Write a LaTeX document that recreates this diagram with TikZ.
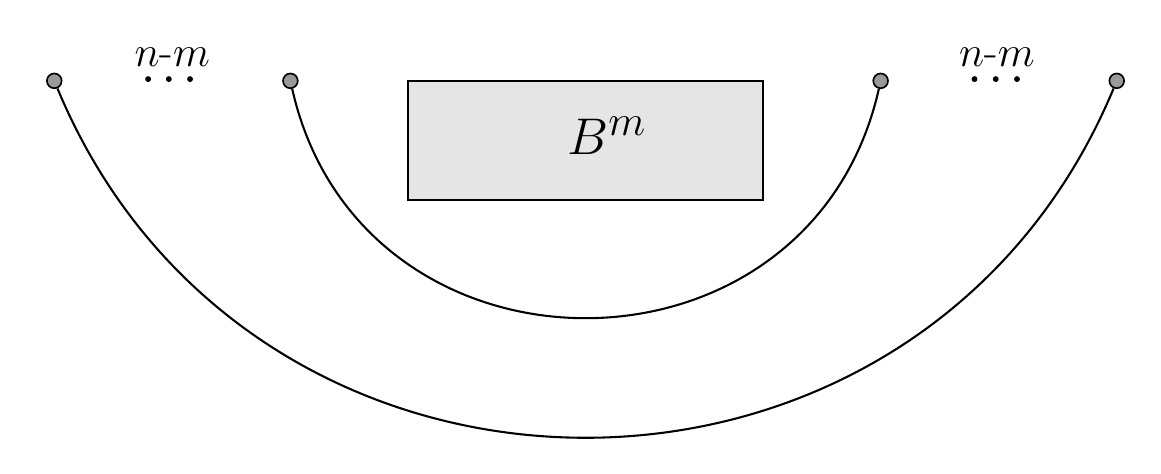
\documentclass[tikz,border=0pt]{standalone}
\begin{document}
\begin{tikzpicture}[port/.style={circle, draw, fill=black!40, inner sep=0pt, minimum size=0.25cm, line width=0.8pt}, arcline/.style={line width=1pt}, lbl/.style={font=\fontsize{21.5}{26}\selectfont, anchor=base}]
\useasboundingbox (-9.92,-6.66) rectangle (9.75,1.37);
\node[port] (pid0) at (-9,0){};
\node[port] (pid1) at (-5,0){};
\node[port] (pid2) at (5,0){};
\node[port] (pid3) at (9,0){};
\node[draw, fill=black!10, minimum width=6.02cm, minimum height=2.02cm, line width=1pt] (box) at (0,-1.01){};
\node[font=\Huge, anchor=base] (bm) at (0.36,-1.25){$B^m$};
\node[lbl] (nl) at (-7,0.25){$n$-$m$};
\node[lbl] (nr) at (6.97,0.25){$n$-$m$};
% dots
\foreach \x in {-7.41,-7.06,-6.70,6.59,6.95,7.31}
  \fill (\x,0.03) circle (0.05);
\draw[arcline] (pid1) to[out=-77.3, in=-102.7, looseness=1.37] (pid2);
\draw[arcline] (pid0) to[out=-67.4, in=-112.6, looseness=1.225] (pid3);
\end{tikzpicture}
\end{document}
